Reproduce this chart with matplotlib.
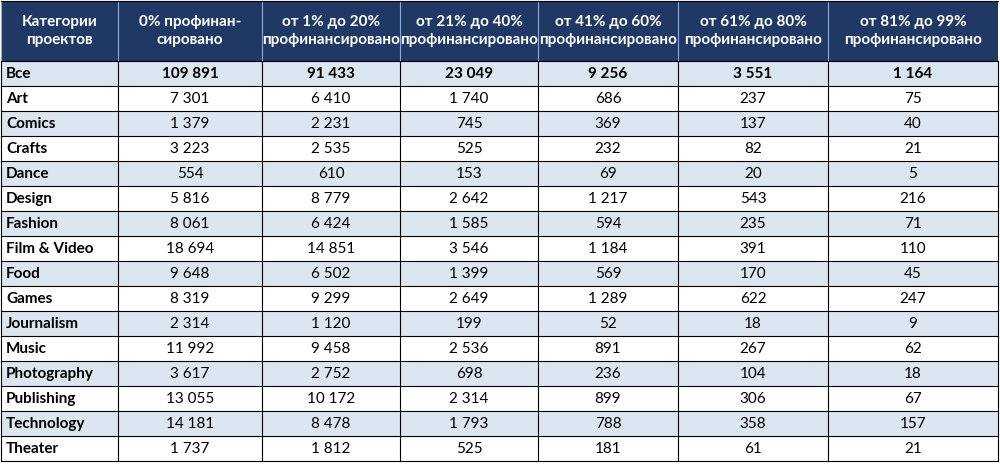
import matplotlib
matplotlib.use("Agg")
import matplotlib.pyplot as plt
from matplotlib.patches import Rectangle

headers = ["Категории\nпроектов", "0% профинан-\nсировано", "от 1% до 20%\nпрофинансировано",
           "от 21% до 40%\nпрофинансировано", "от 41% до 60%\nпрофинансировано",
           "от 61% до 80%\nпрофинансировано", "от 81% до 99%\nпрофинансировано"]
categories = ["Все", "Art", "Comics", "Crafts", "Dance", "Design", "Fashion", "Film & Video",
              "Food", "Games", "Journalism", "Music", "Photography", "Publishing",
              "Technology", "Theater"]
funded_0 = [109891, 7301, 1379, 3223, 554, 5816, 8061, 18694, 9648, 8319, 2314, 11992, 3617, 13055, 14181, 1737]
funded_1_20 = [91433, 6410, 2231, 2535, 610, 8779, 6424, 14851, 6502, 9299, 1120, 9458, 2752, 10172, 8478, 1812]
funded_21_40 = [23049, 1740, 745, 525, 153, 2642, 1585, 3546, 1399, 2649, 199, 2536, 698, 2314, 1793, 525]
funded_41_60 = [9256, 686, 369, 232, 69, 1217, 594, 1184, 569, 1289, 52, 891, 236, 899, 788, 181]
funded_61_80 = [3551, 237, 137, 82, 20, 543, 235, 391, 170, 622, 18, 267, 104, 306, 358, 61]
funded_81_99 = [1164, 75, 40, 21, 5, 216, 71, 110, 45, 247, 9, 62, 18, 67, 157, 21]
columns = [funded_0, funded_1_20, funded_21_40, funded_41_60, funded_61_80, funded_81_99]

plt.rcParams['font.family'] = ['Lato', 'DejaVu Sans']
W, H = 1000, 465
fig = plt.figure(figsize=(W / 100, H / 100), dpi=100)
ax = fig.add_axes([0, 0, 1, 1])
ax.set_xlim(0, W)
ax.set_ylim(H, 0)
ax.axis('off')

xs = [1, 118, 262, 400, 538, 678, 828, 998]
header_h = 60
row_h = 25
top = 1

def fmt(v):
    return f"{v:,}".replace(",", " ")

# шапка
ax.add_patch(Rectangle((xs[0], top), xs[-1] - xs[0], header_h, facecolor='#1F3864', edgecolor='none'))
for i, h in enumerate(headers):
    cx = (xs[i] + xs[i + 1]) / 2
    ax.text(cx, top + header_h / 2, h, color='white', fontsize=11, fontweight='bold',
            ha='center', va='center', linespacing=1.35)

# строки
for r, cat in enumerate(categories):
    y0 = top + header_h + r * row_h
    color = '#DCE6F1' if r % 2 == 0 else 'white'
    ax.add_patch(Rectangle((xs[0], y0), xs[-1] - xs[0], row_h, facecolor=color, edgecolor='none'))
    weight = 'bold' if r == 0 else 'normal'
    ax.text(xs[0] + 5, y0 + row_h / 2, cat, fontsize=11, fontweight='bold', ha='left', va='center')
    for c, col in enumerate(columns):
        cx = (xs[c + 1] + xs[c + 2]) / 2
        ax.text(cx, y0 + row_h / 2, fmt(col[r]), fontsize=11, fontweight=weight, ha='center', va='center')

# сетка
bottom = top + header_h + len(categories) * row_h
for x in xs:
    ax.plot([x, x], [top + header_h, bottom], color='black', lw=0.8)
for i in range(len(xs) - 1):
    ax.plot([xs[i], xs[i]], [top, top + header_h], color='#8EA9DB', lw=0.8)
for r in range(len(categories) + 1):
    y = top + header_h + r * row_h
    ax.plot([xs[0], xs[-1]], [y, y], color='black', lw=0.8)
ax.plot([xs[0], xs[-1]], [top, top], color='black', lw=0.8)

fig.savefig("out.png", dpi=100)
